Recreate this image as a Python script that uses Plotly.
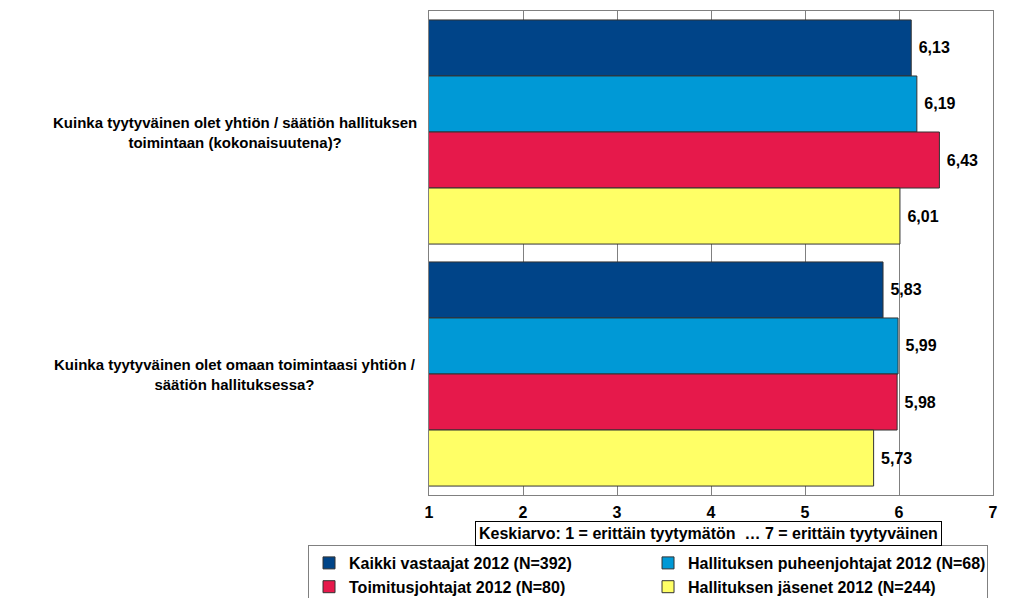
import plotly.graph_objects as go

categories = [
    "Kuinka tyytyväinen olet yhtiön / säätiön hallituksen<br>toimintaan (kokonaisuutena)?",
    "Kuinka tyytyväinen olet omaan toimintaasi yhtiön /<br>säätiön hallituksessa?",
]
series_names = [
    "Kaikki vastaajat 2012 (N=392)",
    "Hallituksen puheenjohtajat 2012 (N=68)",
    "Toimitusjohtajat 2012 (N=80)",
    "Hallituksen jäsenet 2012 (N=244)",
]
kaikki = [6.13, 5.83]
puheenjohtajat = [6.19, 5.99]
toimitusjohtajat = [6.43, 5.98]
jasenet = [6.01, 5.73]
series_values = [kaikki, puheenjohtajat, toimitusjohtajat, jasenet]
colors = ["#004488", "#0099D6", "#E6194B", "#FFFF66"]
x_ticks = [1, 2, 3, 4, 5, 6, 7]
axis_title = "Keskiarvo: 1 = erittäin tyytymätön \u00a0… 7 = erittäin tyytyväinen"

FONT = "Arial, Liberation Sans, sans-serif"

fig = go.Figure()
for name, vals, col in zip(series_names, series_values, colors):
    fig.add_trace(go.Bar(
        y=categories, x=vals, name=name, orientation="h",
        marker=dict(color=col, line=dict(color="#333333", width=1)),
        texttemplate="\u00a0%{x:.2f}", textposition="outside",
        textfont=dict(family=FONT, size=16, color="black", weight="bold"),
        cliponaxis=False,
    ))

for cat in categories:
    fig.add_annotation(
        x=-0.344, y=cat, xref="paper", yref="y", text=cat,
        showarrow=False, xanchor="center", yanchor="middle", align="center",
        font=dict(family=FONT, size=15, color="black", weight="bold"),
    )

fig.add_annotation(
    x=0.4947, y=-0.080, xref="paper", yref="paper", text=axis_title,
    showarrow=False, xanchor="center", yanchor="middle",
    bordercolor="black", borderwidth=1, borderpad=3, bgcolor="white",
    font=dict(family=FONT, size=16, color="black", weight="bold"),
)

fig.update_layout(
    width=1024, height=598,
    margin=dict(l=429, r=31, t=11, b=103, autoexpand=False),
    paper_bgcolor="white", plot_bgcolor="white",
    barmode="group", bargap=0.074, bargroupgap=0,
    separators=", ",
    font=dict(family=FONT, color="black"),
    showlegend=True,
    legend=dict(
        orientation="h", x=-0.2145, xanchor="left", y=-0.1033, yanchor="top",
        entrywidth=294, bordercolor="#808080", borderwidth=1,
        font=dict(family=FONT, size=16, color="black", weight="bold"),
        traceorder="normal",
    ),
    xaxis=dict(
        range=[1, 7], tickvals=x_ticks, ticktext=[str(t) for t in x_ticks],
        showgrid=True, gridcolor="#808080", gridwidth=1,
        showline=True, linecolor="#808080", linewidth=1, mirror="allticks",
        ticks="inside", ticklen=8, tickcolor="#808080", zeroline=False,
        ticklabelstandoff=3,
        tickfont=dict(family=FONT, size=16, color="black", weight="bold"),
    ),
    yaxis=dict(
        type="category", autorange="reversed", showticklabels=False,
        showline=True, linecolor="#808080", linewidth=1, mirror=True,
        ticks="", showgrid=False,
    ),
)

fig.write_html(
    "out.html",
    config={"displayModeBar": False},
    post_script="document.body.style.margin='0';document.body.style.overflow='hidden';",
)
